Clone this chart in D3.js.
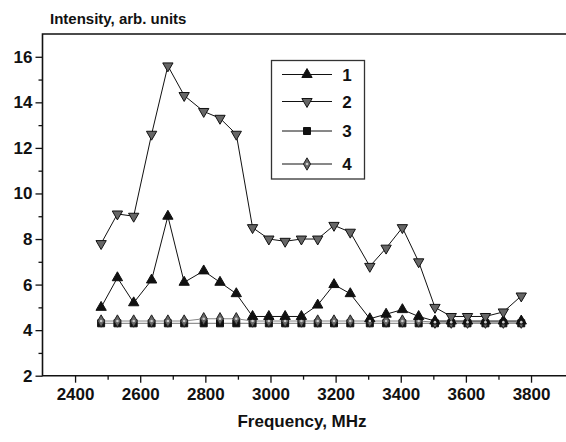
<!DOCTYPE html>
<html>
<head>
<meta charset="utf-8">
<script src="https://cdn.jsdelivr.net/npm/d3@7"></script>
<style>
  body { margin: 0; background: #fff; }
  text { font-family: "Liberation Sans", Arial, sans-serif; font-weight: bold; fill: #111; }
</style>
</head>
<body>
<div id="chart"></div>
<script>
const width = 566, height = 442
const margin = { top: 34, right: 2.4, bottom: 66.3, left: 42.5 }

// frequencies, MHz
const freq = [2480, 2530, 2580, 2635, 2685, 2735, 2795, 2845, 2895, 2945, 2995, 3045, 3095,
  3145, 3195, 3245, 3305, 3355, 3405, 3455, 3505, 3555, 3605, 3660, 3715, 3770]

const series1 = [5.0, 6.3, 5.2, 6.2, 9.0, 6.1, 6.6, 6.1, 5.6, 4.6, 4.6, 4.6, 4.6,
  5.1, 6.0, 5.6, 4.5, 4.7, 4.9, 4.6, 4.4, 4.4, 4.4, 4.4, 4.4, 4.4]
const series2 = [7.8, 9.1, 9.0, 12.6, 15.6, 14.3, 13.6, 13.3, 12.6, 8.5, 8.0, 7.9, 8.0,
  8.0, 8.6, 8.3, 6.8, 7.6, 8.5, 7.0, 5.0, 4.6, 4.6, 4.6, 4.8, 5.5]
const series3 = [4.3, 4.3, 4.3, 4.3, 4.3, 4.3, 4.3, 4.3, 4.3, 4.3, 4.3, 4.3, 4.3,
  4.3, 4.3, 4.3, 4.3, 4.3, 4.3, 4.3, 4.3, 4.3, 4.3, 4.3, 4.3, 4.3]
const series4 = [4.4, 4.4, 4.4, 4.4, 4.4, 4.4, 4.5, 4.5, 4.5, 4.4, 4.4, 4.4, 4.4,
  4.4, 4.4, 4.4, 4.4, 4.4, 4.4, 4.4, 4.35, 4.35, 4.35, 4.35, 4.35, 4.35]

const xTicks = [2400, 2600, 2800, 3000, 3200, 3400, 3600, 3800]
const yTicks = [2, 4, 6, 8, 10, 12, 14, 16]
const legendLabels = ['1', '2', '3', '4']

const svg = d3.select('#chart').append('svg')
  .attr('width', width)
  .attr('height', height)

const x = d3.scaleLinear().domain([2300, 3900]).range([margin.left, width - margin.right])
const y = d3.scaleLinear().domain([2, 17]).range([height - margin.bottom, margin.top])

// axes with outward ticks
const xAxis = d3.axisBottom(x).tickValues(xTicks).tickSize(7).tickPadding(5).tickFormat(d3.format('d'))
const xMinor = d3.axisBottom(x).tickValues(d3.range(2500, 3900, 200)).tickSize(4).tickFormat('')
const yAxis = d3.axisLeft(y).tickValues(yTicks).tickSize(7).tickPadding(3)
const yMinor = d3.axisLeft(y).tickValues(d3.range(3, 17, 2)).tickSize(4).tickFormat('')

function styleAxis(g) {
  g.select('.domain').remove()
  g.selectAll('.tick line').attr('stroke', '#111').attr('stroke-width', 1.3)
  g.selectAll('.tick text').style('font-size', '17px')
}

svg.append('g').attr('transform', `translate(0,${y(2)})`).call(xAxis).call(styleAxis)
svg.append('g').attr('transform', `translate(0,${y(2)})`).call(xMinor).call(styleAxis)
svg.append('g').attr('transform', `translate(${x(2300)},0)`).call(yAxis).call(styleAxis)
svg.append('g').attr('transform', `translate(${x(2300)},0)`).call(yMinor).call(styleAxis)

// frame: left, bottom, top
svg.append('path')
  .attr('d', `M${width},${y(17)}H${x(2300)}V${y(2)}H${width}`)
  .attr('fill', 'none')
  .attr('stroke', '#111')
  .attr('stroke-width', 1.6)

svg.append('text')
  .attr('x', 50).attr('y', 24)
  .style('font-size', '15px')
  .text('Intensity, arb. units')

svg.append('text')
  .attr('x', 302).attr('y', 427)
  .attr('text-anchor', 'middle')
  .style('font-size', '17px')
  .text('Frequency, MHz')

const line = d3.line().x((d, i) => x(freq[i])).y(d => y(d))

const symUp = d3.symbol().type(d3.symbolTriangle).size(46)()
const symSquare = d3.symbol().type(d3.symbolSquare).size(49)()
const symDiamond = d3.symbol().type(d3.symbolDiamond).size(44)()

const styles = [
  { data: series3, path: symSquare, rot: 0, fill: '#111', stroke: '#111', lineColor: '#777' },
  { data: series4, path: symDiamond, rot: 0, fill: '#666', stroke: '#222', lineColor: '#888' },
  { data: series1, path: symUp, rot: 0, fill: '#111', stroke: '#111', lineColor: '#111' },
  { data: series2, path: symUp, rot: 180, fill: '#666', stroke: '#111', lineColor: '#111' }
]

styles.forEach(s => {
  svg.append('path')
    .datum(s.data)
    .attr('d', line)
    .attr('fill', 'none')
    .attr('stroke', s.lineColor)
    .attr('stroke-width', 1)

  svg.selectAll(null)
    .data(s.data)
    .enter()
    .append('path')
    .attr('d', s.path)
    .attr('transform', (d, i) => `translate(${x(freq[i])},${y(d)}) rotate(${s.rot})`)
    .attr('fill', s.fill)
    .attr('stroke', s.stroke)
    .attr('stroke-width', 1)
})

// diamond centres are lighter
svg.selectAll(null)
  .data(series4)
  .enter()
  .append('circle')
  .attr('cx', (d, i) => x(freq[i]))
  .attr('cy', d => y(d))
  .attr('r', 1.3)
  .attr('fill', '#ccc')

// legend
svg.append('rect')
  .attr('x', 271.5).attr('y', 60.5)
  .attr('width', 93).attr('height', 118.5)
  .attr('fill', '#fff')
  .attr('stroke', '#333')
  .attr('stroke-width', 1.3)
  .lower()

const legendY = [74.5, 101.5, 131, 164]
const legendStyles = [styles[2], styles[3], styles[0], styles[1]]

legendLabels.forEach((lab, i) => {
  const s = legendStyles[i]
  const g = svg.append('g').attr('transform', `translate(0,${legendY[i]})`)
  g.append('line')
    .attr('x1', 282).attr('x2', 332)
    .attr('stroke', '#111').attr('stroke-width', 1)
  g.append('path')
    .attr('d', s.path)
    .attr('transform', `translate(307,0) rotate(${s.rot})`)
    .attr('fill', s.fill)
    .attr('stroke', s.stroke)
  if (i === 3) g.append('circle').attr('cx', 307).attr('r', 1.3).attr('fill', '#ccc')
  g.append('text')
    .attr('x', 347).attr('y', 6)
    .attr('text-anchor', 'middle')
    .style('font-size', '17px')
    .text(lab)
})
</script>
</body>
</html>
